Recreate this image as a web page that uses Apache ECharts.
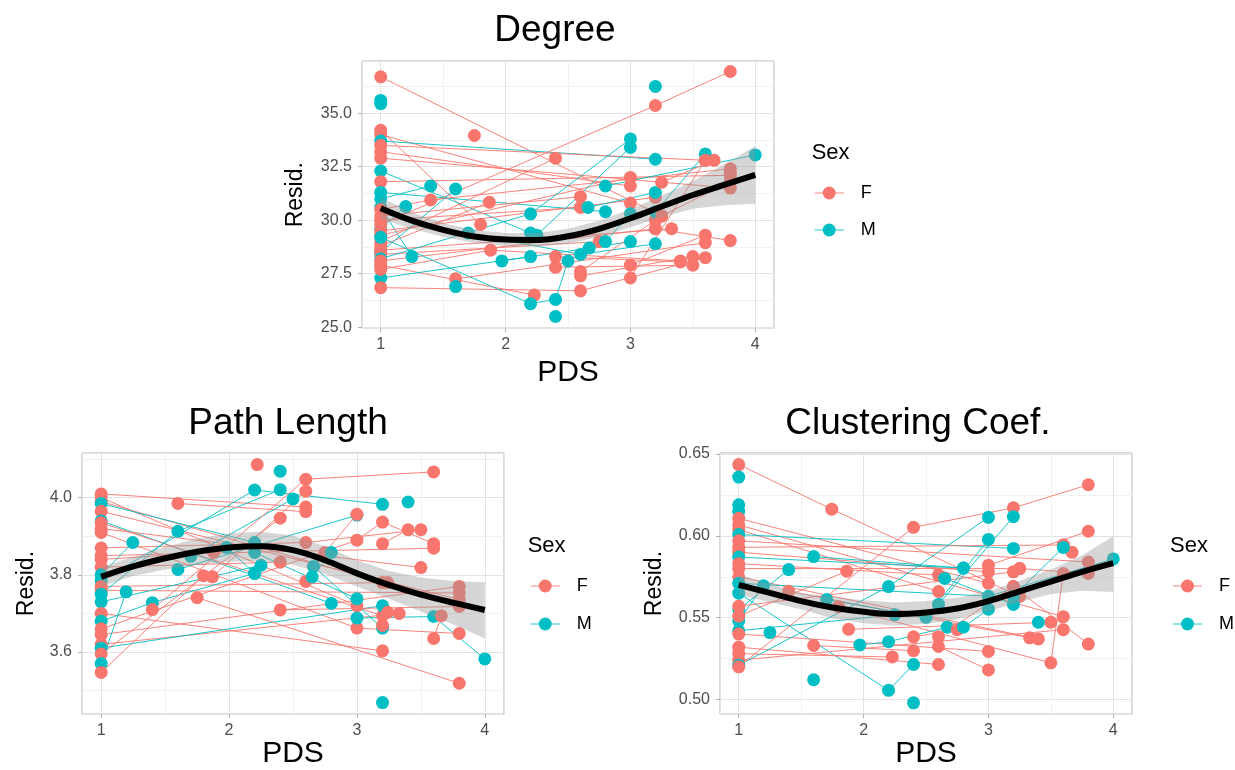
<!DOCTYPE html>
<html>
<head>
<meta charset="utf-8">
<script src="https://cdn.jsdelivr.net/npm/echarts@6/dist/echarts.min.js"></script>
<style>
html,body{margin:0;padding:0;background:#fff;}
#chart{width:1235px;height:770px;}
</style>
</head>
<body>
<div id="chart"></div>
<script>
// ---------------- DATA ----------------
const pdsTicks = [1, 2, 3, 4];
const sexLevels = ['F', 'M'];

// each subject: [sex, [PDS, resid], [PDS, resid], ...]
const degreeSubjects = [
  ['F',[1,36.7],[3.25,30.2]],
  ['M',[1,35.6]],
  ['M',[1,35.45]],
  ['F',[1,34.2],[1.8,29.8]],
  ['F',[1,34.0],[3.0,30.8]],
  ['M',[1,33.7],[3.2,32.85]],
  ['F',[1,33.5],[3.6,32.8]],
  ['F',[1,33.2],[3.0,31.6]],
  ['F',[1,32.9],[3.8,31.5]],
  ['M',[1,32.3],[2.2,29.4]],
  ['F',[1,31.8],[3.8,32.1]],
  ['M',[1,31.3],[2.8,30.4]],
  ['M',[1,31.0],[1.4,31.6]],
  ['M',[1,30.6],[1.25,28.3]],
  ['F',[1,30.5],[1.4,30.95],[3.8,32.4]],
  ['F',[1,30.2],[2.6,31.1]],
  ['F',[1,30.0],[2.6,30.6]],
  ['M',[1,29.6],[1.2,30.64]],
  ['F',[1,29.8],[3.2,35.36],[3.8,36.95]],
  ['F',[1,29.5],[3.2,31.07]],
  ['F',[1,29.3],[3.0,32.0]],
  ['F',[1,29.0],[2.4,32.9]],
  ['F',[1,28.8],[1.87,30.84]],
  ['M',[1,28.5],[1.6,31.46]],
  ['F',[1,28.6],[3.33,29.6]],
  ['F',[1,28.4],[2.75,29.0]],
  ['M',[1,28.2],[2.2,30.3],[3.0,33.8]],
  ['F',[1,28.1],[3.2,29.6]],
  ['F',[1,27.9],[2.23,26.5]],
  ['M',[1,27.3],[2.2,28.3]],
  ['F',[1,27.7],[1.88,28.6],[3.4,28.1]],
  ['F',[1,26.85],[2.6,26.7],[3.6,28.25]],
  ['M',[1,29.2],[2.2,26.1],[2.4,26.3],[2.5,28.1]],
  ['F',[1.6,27.26],[3.6,28.95]],
  ['M',[1.6,26.9]],
  ['F',[1.75,33.96]],
  ['M',[1.7,29.4],[2.6,28.4],[3.2,28.9]],
  ['M',[1.97,28.1],[2.67,28.7],[3.0,29.0]],
  ['M',[2.25,29.3],[3.0,33.4]],
  ['M',[2.4,25.5]],
  ['F',[2.4,28.3],[3.4,28.05]],
  ['F',[2.4,27.8],[3.5,27.9]],
  ['F',[2.6,27.6],[3.2,30.0]],
  ['F',[2.6,27.4],[3.5,28.3]],
  ['M',[2.66,30.6],[3.2,31.3]],
  ['M',[2.8,31.6],[4.0,33.05]],
  ['M',[2.8,29.0],[3.0,30.3]],
  ['M',[3.2,36.25]],
  ['M',[3.2,30.4],[3.6,33.1]],
  ['F',[3.25,31.77],[3.67,32.8]],
  ['F',[3.0,27.9],[3.6,29.3]],
  ['F',[3.0,27.3],[3.6,32.8]],
  ['F',[3.2,29.6],[3.8,29.05]],
  ['F',[3.25,30.2],[3.8,31.8]],
  ['F',[3.8,32.2]]
];

const pathSubjects = [
  ['F',[1,4.01],[2.6,3.976]],
  ['F',[1,4.0],[3.0,3.72]],
  ['F',[1,3.99],[3.2,3.78]],
  ['M',[1,3.985],[2.2,3.884]],
  ['F',[1,3.965],[3.8,3.736]],
  ['M',[1,3.94],[2.8,3.726]],
  ['F',[1,3.935],[3.2,3.694]],
  ['F',[1,3.92],[3.5,3.819]],
  ['F',[1,3.91],[3.0,3.662],[3.8,3.648]],
  ['F',[1,3.87],[2.6,3.884],[3.5,3.917]],
  ['F',[1,3.85],[3.6,3.869]],
  ['F',[1,3.84],[1.88,3.858]],
  ['F',[1,3.82],[2.4,3.833]],
  ['M',[1,3.80],[1.247,3.884]],
  ['M',[1,3.785],[2.2,4.02],[3.2,3.983]],
  ['F',[1,3.77],[3.24,3.78]],
  ['F',[1,3.76],[3.8,3.753]],
  ['M',[1,3.75],[1.6,3.913],[2.4,4.021]],
  ['M',[1,3.73],[2.25,3.825]],
  ['F',[1,3.70],[3.2,3.603]],
  ['M',[1,3.68],[1.4,3.728],[2.2,3.804]],
  ['F',[1,3.66],[3.0,3.89],[3.2,3.937],[3.6,3.881]],
  ['F',[1,3.645],[3.8,3.77]],
  ['F',[1,3.62],[3.33,3.70]],
  ['M',[1,3.61],[3.2,3.72]],
  ['F',[1,3.595],[2.4,3.947]],
  ['M',[1,3.57],[1.195,3.756]],
  ['F',[1,3.547],[1.8,3.798]],
  ['F',[1.6,3.985],[2.6,3.964]],
  ['M',[1.6,3.814],[3.0,3.955]],
  ['M',[1.7,3.848],[2.5,3.997]],
  ['F',[1.87,3.795],[2.6,4.017]],
  ['F',[1.4,3.71],[2.6,4.048],[3.6,4.067]],
  ['F',[2.6,3.783],[2.75,3.858],[3.0,3.957]],
  ['M',[2.2,3.858],[3.0,3.738]],
  ['M',[2.66,3.822],[3.2,3.662]],
  ['M',[2.65,3.795],[2.8,3.858]],
  ['F',[2.4,3.709],[3.8,3.718]],
  ['M',[2.4,4.069]],
  ['M',[3.2,3.469]],
  ['M',[3.4,3.989]],
  ['F',[3.2,3.881],[3.4,3.917]],
  ['F',[1.75,3.741],[3.8,3.519]],
  ['M',[3.0,3.688],[3.6,3.692],[4.0,3.582]],
  ['F',[3.6,3.635],[3.66,3.694]],
  ['F',[2.22,4.086]],
  ['M',[1.98,3.871],[2.2,3.804]],
  ['F',[3.2,3.669],[3.24,3.703]]
];

const clusterSubjects = [
  ['F',[1,0.6435],[1.745,0.6163],[3.25,0.563]],
  ['M',[1,0.6359]],
  ['M',[1,0.619]],
  ['M',[1,0.615]],
  ['M',[1,0.565],[2.2,0.5056],[2.4,0.5214]],
  ['F',[1,0.6107],[3.0,0.571]],
  ['F',[1,0.6067],[3.6,0.5506]],
  ['F',[1,0.6038],[2.6,0.566]],
  ['M',[1,0.6008],[3.2,0.5923]],
  ['F',[1,0.597],[3.8,0.584]],
  ['F',[1,0.593],[3.6,0.5944]],
  ['F',[1,0.590],[3.0,0.578]],
  ['M',[1,0.587],[2.8,0.5803]],
  ['F',[1,0.583],[2.6,0.576]],
  ['F',[1,0.580],[3.25,0.58]],
  ['F',[1,0.575],[3.4,0.537]],
  ['M',[1,0.571],[3.0,0.5631],[4.0,0.5859]],
  ['M',[1,0.555],[1.4,0.5794]],
  ['M',[1.6,0.5873],[2.8,0.5803]],
  ['M',[1,0.548],[1.198,0.5695]],
  ['F',[1,0.557],[3.2,0.578]],
  ['F',[1,0.551],[1.865,0.5784]],
  ['M',[1,0.542],[2.25,0.5518]],
  ['F',[1,0.540],[3.0,0.5294]],
  ['F',[1,0.532],[2.6,0.5214]],
  ['F',[1,0.528],[2.23,0.526]],
  ['F',[1,0.524],[3.6,0.5427]],
  ['M',[1,0.521],[2.2,0.569],[3.0,0.6113]],
  ['F',[1,0.520],[2.4,0.6052],[3.2,0.6171],[3.8,0.6312]],
  ['M',[1.25,0.5409]],
  ['F',[1.4,0.5661],[3.33,0.5377]],
  ['F',[1.6,0.533],[2.4,0.5298]],
  ['M',[1.6,0.5121]],
  ['M',[1.705,0.5611],[2.5,0.5502],[3.0,0.5978]],
  ['F',[1.8,0.5567],[3.5,0.5224],[3.6,0.577]],
  ['F',[1.88,0.5429],[3.5,0.5472]],
  ['M',[1.97,0.5333],[2.2,0.5353],[2.67,0.5442]],
  ['M',[2.4,0.498]],
  ['F',[2.4,0.5383],[2.75,0.5427]],
  ['M',[2.6,0.5581],[3.2,0.6117]],
  ['F',[2.6,0.5383],[3.2,0.569]],
  ['F',[2.6,0.5324],[3.0,0.5181]],
  ['M',[2.65,0.574],[3.2,0.5581]],
  ['M',[2.8,0.5442],[3.0,0.5552]],
  ['F',[3.0,0.582],[3.8,0.6028]],
  ['F',[3.2,0.569],[3.8,0.5339]],
  ['F',[3.25,0.58],[3.8,0.577]],
  ['M',[3.4,0.5472]],
  ['F',[3.6,0.5944],[3.67,0.5899]],
  ['M',[3.2,0.5631],[3.6,0.5929]]
];

// smooth (loess) fit and its confidence band
const smoothPDS  = [1, 1.25, 1.5, 1.75, 2, 2.25, 2.5, 2.75, 3, 3.25, 3.5, 3.75, 4];
const degreeFit  = [30.56, 29.98, 29.55, 29.24, 29.10, 29.08, 29.25, 29.60, 30.09, 30.64, 31.18, 31.65, 32.12];
const degreeLo   = [30.06, 29.60, 29.23, 28.94, 28.80, 28.76, 28.90, 29.22, 29.67, 30.14, 30.53, 30.70, 30.77];
const degreeHi   = [31.06, 30.36, 29.87, 29.54, 29.40, 29.40, 29.60, 29.98, 30.51, 31.14, 31.83, 32.60, 33.47];
const pathFit    = [3.795, 3.822, 3.843, 3.860, 3.871, 3.874, 3.864, 3.838, 3.804, 3.774, 3.749, 3.728, 3.709];
const pathLo     = [3.770, 3.797, 3.814, 3.826, 3.834, 3.836, 3.826, 3.802, 3.770, 3.738, 3.705, 3.672, 3.635];
const pathHi     = [3.820, 3.847, 3.872, 3.894, 3.908, 3.912, 3.902, 3.874, 3.838, 3.810, 3.793, 3.784, 3.781];
const clusterFit = [0.5700, 0.5651, 0.5601, 0.5562, 0.5536, 0.5522, 0.5532, 0.5556, 0.5601, 0.5661, 0.5720, 0.5780, 0.5833];
const clusterLo  = [0.5640, 0.5595, 0.5551, 0.5497, 0.5466, 0.5452, 0.5462, 0.5491, 0.5540, 0.5596, 0.5645, 0.5665, 0.5657];
const clusterHi  = [0.5760, 0.5707, 0.5651, 0.5627, 0.5606, 0.5592, 0.5602, 0.5621, 0.5662, 0.5726, 0.5795, 0.5880, 0.5998];

const degreeTicks  = [25, 27.5, 30, 32.5, 35];
const pathTicks    = [3.6, 3.8, 4.0];
const clusterTicks = [0.50, 0.55, 0.60, 0.65];

const panelTitles = ['Degree', 'Path Length', 'Clustering Coef.'];

// ---------------- CHART ----------------
const COL = { F: '#F8766D', M: '#00BFC4' };
const FONT = 'Liberation Sans, Arial, Helvetica, sans-serif';

const panels = [
  { subjects: degreeSubjects, fit: degreeFit, lo: degreeLo, hi: degreeHi, ticks: degreeTicks, step: 2.5, dec: 1,
    grid: { left: 362, top: 61, width: 412, height: 267.5 }, ymin: 24.94, ymax: 37.44, xGap: 29, yGap: 55,
    title: [555, 31], legend: [811.7, 153, 193, 230] },
  { subjects: pathSubjects, fit: pathFit, lo: pathLo, hi: pathHi, ticks: pathTicks, step: 0.2, dec: 1,
    grid: { left: 82, top: 453, width: 422, height: 268 }, ymin: 3.439, ymax: 4.116, xGap: 18, yGap: 44,
    title: [288, 424], legend: [527.7, 545.7, 586, 624] },
  { subjects: clusterSubjects, fit: clusterFit, lo: clusterLo, hi: clusterHi, ticks: clusterTicks, step: 0.05, dec: 2,
    grid: { left: 720, top: 453, width: 412, height: 268 }, ymin: 0.4911, ymax: 0.6506, xGap: 18, yGap: 54,
    title: [918, 424], legend: [1170, 545.7, 586, 624] }
];

function inList(v, list) { return list.some(t => Math.abs(t - v) < 1e-6); }

const grids = [], xAxes = [], yAxes = [], series = [], graphics = [];

panels.forEach((p, i) => {
  grids.push(Object.assign({ show: true, borderColor: '#b3b3b3', borderWidth: 1, backgroundColor: '#fff' }, p.grid));
  xAxes.push({
    gridIndex: i, type: 'value', min: 0.85, max: 4.15, minInterval: 1, maxInterval: 1,
    axisLine: { show: false },
    axisTick: { show: true, length: 4, lineStyle: { color: '#b3b3b3' } },
    axisLabel: { color: '#4d4d4d', fontSize: 16, fontFamily: FONT, margin: 8, showMinLabel: false, showMaxLabel: false,
      formatter: v => inList(v, pdsTicks) ? String(Math.round(v)) : '' },
    splitLine: { show: true, lineStyle: { color: '#e3e3e3', width: 1 } },
    minorTick: { show: false, splitNumber: 2 },
    minorSplitLine: { show: true, lineStyle: { color: '#f1f1f1', width: 1 } },
    name: 'PDS', nameLocation: 'middle', nameGap: p.xGap,
    nameTextStyle: { fontSize: 30, color: '#000', fontFamily: FONT, verticalAlign: 'top' }
  });
  yAxes.push({
    gridIndex: i, type: 'value', min: p.ymin, max: p.ymax, minInterval: p.step, maxInterval: p.step,
    axisLine: { show: false },
    axisTick: { show: true, length: 4, lineStyle: { color: '#b3b3b3' } },
    axisLabel: { color: '#4d4d4d', fontSize: 16, fontFamily: FONT, margin: 10, showMinLabel: false, showMaxLabel: false,
      formatter: v => inList(v, p.ticks) ? v.toFixed(p.dec) : '' },
    splitLine: { show: true, lineStyle: { color: '#e3e3e3', width: 1 } },
    minorTick: { show: false, splitNumber: 2 },
    minorSplitLine: { show: true, lineStyle: { color: '#f1f1f1', width: 1 } },
    name: 'Resid.', nameLocation: 'middle', nameGap: p.yGap,
    nameTextStyle: { fontSize: 23, color: '#000', fontFamily: FONT }
  });

  // subject trajectories
  p.subjects.forEach(sub => {
    const pts = sub.slice(1);
    if (pts.length > 1) {
      series.push({ type: 'line', xAxisIndex: i, yAxisIndex: i, data: pts, symbol: 'none', silent: true, z: 2,
        lineStyle: { color: COL[sub[0]], width: 1, opacity: 0.9 } });
    }
  });
  // points
  const pointData = [];
  p.subjects.forEach(sub => sub.slice(1).forEach(pt => pointData.push({ value: pt, itemStyle: { color: COL[sub[0]], opacity: 1 } })));
  series.push({ type: 'scatter', xAxisIndex: i, yAxisIndex: i, data: pointData, symbol: 'circle', symbolSize: 13,
    silent: true, z: 3, itemStyle: { opacity: 1 } });
  // confidence band
  series.push({
    type: 'custom', xAxisIndex: i, yAxisIndex: i, z: 4, silent: true,
    data: [[smoothPDS[0], p.fit[0]]],
    renderItem: (params, api) => {
      const pts = [];
      for (let k = 0; k < smoothPDS.length; k++) pts.push(api.coord([smoothPDS[k], p.hi[k]]));
      for (let k = smoothPDS.length - 1; k >= 0; k--) pts.push(api.coord([smoothPDS[k], p.lo[k]]));
      return { type: 'polygon', shape: { points: pts }, style: { fill: 'rgba(153,153,153,0.4)' } };
    }
  });
  // fit line
  series.push({ type: 'line', xAxisIndex: i, yAxisIndex: i, data: smoothPDS.map((x, k) => [x, p.fit[k]]),
    smooth: 0.4, symbol: 'none', silent: true, z: 5, lineStyle: { color: '#000', width: 6 } });

  // title
  graphics.push({ type: 'text', x: p.title[0], y: p.title[1], silent: true,
    style: { text: panelTitles[i], font: '37px ' + FONT, fill: '#000', align: 'center', verticalAlign: 'middle' } });
  // legend
  const [lx, sy, fy, my] = p.legend;
  graphics.push({ type: 'text', x: lx, y: sy, silent: true,
    style: { text: 'Sex', font: '22px ' + FONT, fill: '#000', align: 'left', verticalAlign: 'middle' } });
  [[sexLevels[0], fy], [sexLevels[1], my]].forEach(([s, yy]) => {
    graphics.push({ type: 'line', silent: true, shape: { x1: lx + 3, y1: yy, x2: lx + 32, y2: yy },
      style: { stroke: COL[s], lineWidth: 1.5, opacity: 0.6 } });
    graphics.push({ type: 'circle', silent: true, shape: { cx: lx + 17.5, cy: yy, r: 6.5 }, style: { fill: COL[s] } });
    graphics.push({ type: 'text', x: lx + 49, y: yy, silent: true,
      style: { text: s, font: '18px ' + FONT, fill: '#000', align: 'left', verticalAlign: 'middle' } });
  });
});

const chart = echarts.init(document.getElementById('chart'), null, { renderer: 'canvas' });
chart.setOption({
  animation: false,
  backgroundColor: '#fff',
  textStyle: { fontFamily: FONT },
  grid: grids, xAxis: xAxes, yAxis: yAxes, series: series, graphic: graphics
});
</script>
</body>
</html>
